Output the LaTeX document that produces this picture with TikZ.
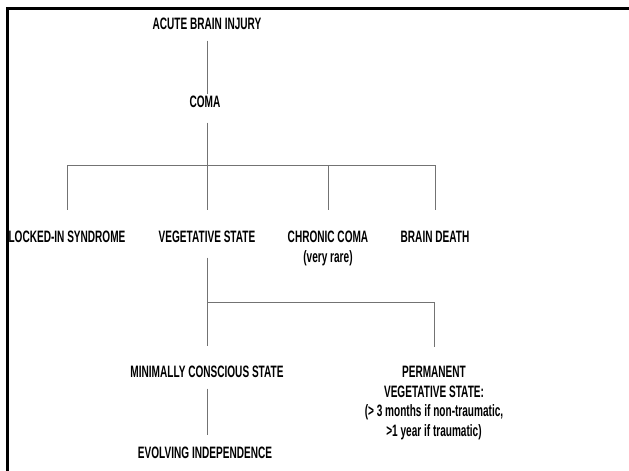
\documentclass[tikz,border=0pt]{standalone}
\usepackage{fontspec}
\setmainfont{Liberation Sans}[FakeStretch=0.61]
\usepackage{tikz}

\begin{document}
\begin{tikzpicture}[x=1pt,y=-1pt,
        state/.style={anchor=north,inner sep=0pt,align=center,font=\fontsize{16.5}{19.5}\selectfont\bfseries},
        link/.style={draw=black!55,line width=1pt}]
    \useasboundingbox (0,0) rectangle (629,471);
    \fill[white] (0,0) rectangle (629,471);
    \draw[line width=3pt] (7.5,471) -- (7.5,8.5) -- (629,8.5);

    \node[state] (injury) at (207,17.5) {ACUTE BRAIN INJURY};
    \node[state] (coma) at (205,96) {COMA};
    \node[state] (locked) at (67,231) {LOCKED-IN SYNDROME};
    \node[state] (veg) at (207,231) {VEGETATIVE STATE};
    \node[state] (chronic) at (328,231) {CHRONIC COMA\\(very rare)};
    \node[state] (death) at (435,231) {BRAIN DEATH};
    \node[state] (mcs) at (207,366) {MINIMALLY CONSCIOUS STATE};
    \node[state] (pvs) at (434,366) {PERMANENT\\VEGETATIVE STATE:\\(> 3 months if non-traumatic,\\>1 year if traumatic)};
    \node[state] (evolve) at (205,447) {EVOLVING INDEPENDENCE};

    \coordinate (split1) at (207,165);
    \coordinate (split2) at (207,302);

    \draw[link, shorten <=11pt, shorten >=2pt] (injury.south -| split1) -- (coma.north -| split1);
    \draw[link, shorten <=14.5pt] (coma.south -| split1) -- (split1);
    \draw[link, shorten >=21pt] (split1) -| (locked.north);
    \draw[link, shorten >=21pt] (split1) -| (death.north);
    \draw[link, shorten >=21pt] (split1) -| (chronic.north);
    \draw[link, shorten >=21pt] (split1) -- (veg.north);
    \draw[link, shorten <=14.5pt] (veg.south) -- (split2);
    \draw[link, shorten >=20pt] (split2) -- (mcs.north);
    \draw[link, shorten >=19pt] (split2) -| (pvs.north);
    \draw[link, shorten <=10.5pt, shorten >=12pt] (mcs.south) -- (evolve.north -| mcs.south);

\end{tikzpicture}
\end{document}
